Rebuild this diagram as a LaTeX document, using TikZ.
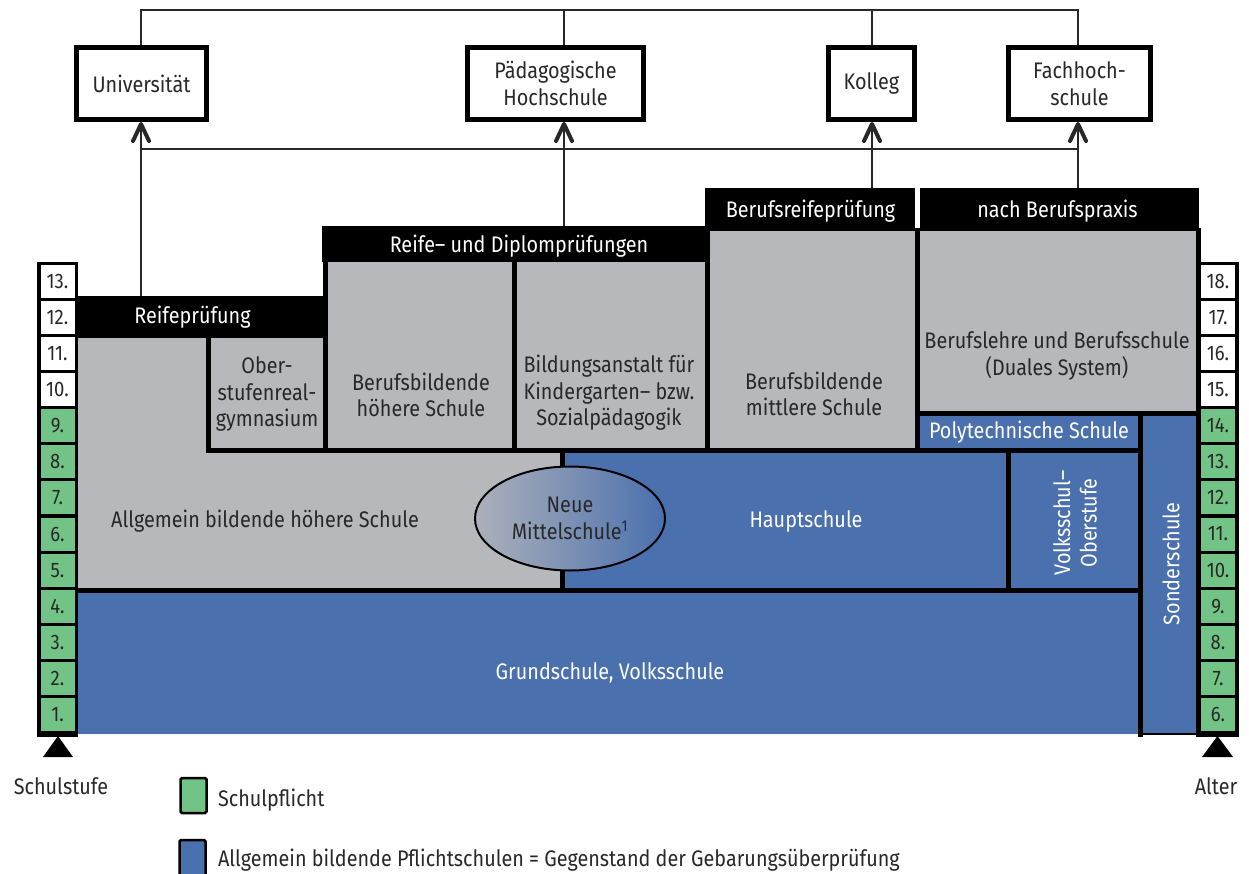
\documentclass[tikz,border=0pt]{standalone}
\usepackage{fontspec}
\setmainfont{Fira Sans}[FakeStretch=0.88]
\usetikzlibrary{arrows.meta,shapes.geometric}
\definecolor{cgray}{RGB}{183,184,188}
\definecolor{cblue}{RGB}{74,112,174}
\definecolor{cgreen}{RGB}{114,196,134}
\definecolor{ctext}{RGB}{40,40,40}
\begin{document}
\begin{tikzpicture}[x=1pt,y=-1pt,
  every node/.style={font=\fontsize{22.5}{26.5}\selectfont, inner sep=0pt, outer sep=0pt, align=center},
  dark/.style={text=ctext},
  light/.style={text=white},
  dest/.style={draw=black, line width=5pt, outer sep=2.5pt, fill=white, text=ctext, minimum height=72pt},
  bar/.style={fill=black},
  conn/.style={line width=1.6pt, draw=ctext},
  arr/.style={conn, -{Straight Barb[length=17pt,width=16pt,line width=4pt,round]}},
  sep/.style={line width=5pt, draw=black, line cap=rect},
  cell/.style={minimum width=34pt, minimum height=33pt, text=ctext, font=\fontsize{21}{22}\selectfont},
  legbox/.style={draw=black, line width=2.5pt, rounded corners=1.5pt, minimum width=26pt},
]
\useasboundingbox (0,0) rectangle (1249,874);
\clip (0,0) rectangle (1249,874);

% ---------- destination boxes ----------
\node[dest, minimum width=130pt] (uni) at (141.5,83.5) {Universität};
\node[dest, minimum width=176pt] (paed) at (555.5,83.5) {Pädagogische\\Hochschule};
\node[dest, minimum width=86pt] (kolleg) at (871.5,83.5) {Kolleg};
\node[dest, minimum width=142pt] (fh) at (1079.5,83.5) {Fachhoch-\\schule};

\coordinate (cu) at (141,0);
\coordinate (cp) at (564,0);
\coordinate (ck) at (872,0);
\coordinate (cf) at (1078,0);
\coordinate (top) at (0,10);
\coordinate (mid) at (0,149);

% ---------- region fills ----------
\fill[cgray] (78,338) rectangle (562,590);
\fill[cgray] (325,262) rectangle (917,450);
\fill[cgray] (707,229) rectangle (1198,413);
\fill[cblue] (562,450) rectangle (1140,590);
\fill[cblue] (917,413) rectangle (1198,450);
\fill[cblue] (1140,413) rectangle (1198,734);
\fill[cblue] (78,590) rectangle (1140,734);

% ---------- exam bars ----------
\node[bar, minimum width=249pt, minimum height=42pt] (reife) at (200.5,317) {};
\node[bar, minimum width=386pt, minimum height=36pt] (rd) at (515,244.5) {};
\node[bar, minimum width=210pt, minimum height=43pt] (brp) at (810,209.5) {};
\node[bar, minimum width=279pt, minimum height=43pt] (nbp) at (1059.5,209.5) {};

% ---------- separators ----------
\draw[sep] (208.5,338) -- (208.5,450) -- (1140,450);
\draw[sep] (325,262) -- (325,450);
\draw[sep] (514,262) -- (514,450);
\draw[sep] (707,229) -- (707,450);
\draw[sep] (917,231) -- (917,450);
\draw[sep] (917,413) -- (1198,413);
\draw[sep] (1198,231) -- (1198,413);
\draw[sep] (1140,413) -- (1140,734);
\draw[sep] (562,450) -- (562,590);
\draw[sep] (1008,450) -- (1008,590);
\draw[sep] (78,590.5) -- (1140,590.5);
\draw[line width=1.5pt] (1140,734) -- (1198,734);

% ---------- connectors ----------
\draw[conn] (uni.north -| cu) -- (cu |- top) -- (cf |- top) -- (fh.north -| cf);
\draw[conn] (paed.north -| cp) -- (cp |- top);
\draw[conn] (kolleg.north -| ck) -- (ck |- top);
\draw[conn] (cu |- mid) -- (cf |- mid);
\draw[arr] (reife.north -| cu) -- (uni.south -| cu);
\draw[arr] (rd.north -| cp) -- (paed.south -| cp);
\draw[arr] (brp.north -| ck) -- (kolleg.south -| ck);
\draw[arr] (nbp.north -| cf) -- (fh.south -| cf);

% ---------- texts ----------
\node[light] (treife) at (192.5,317) {Reifeprüfung};
\node[light] (trd) at (519,246) {Reife– und Diplomprüfungen};
\node[light] (tbrp) at (810.5,211) {Berufsreifeprüfung};
\node[light] (tnbp) at (1057.5,211) {nach Berufspraxis};

\node[dark] (org) at (267,394) {Ober-\\stufenreal-\\gymnasium};
\node[dark] (bhs) at (421,395) {Berufsbildende\\höhere Schule};
\node[dark] (bakip) at (609,393) {Bildungsanstalt für\\Kindergarten– bzw.\\Sozialpädagogik};
\node[dark] (bms) at (814,394) {Berufsbildende\\mittlere Schule};
\node[dark] (bl) at (1057,356) {Berufslehre und Berufsschule\\(Duales System)};
\node[light] (poly) at (1029,432) {Polytechnische Schule};
\node[dark] (abhs) at (265,521) {Allgemein bildende höhere Schule};
\node[light] (hs) at (806,521) {Hauptschule};
\node[light, rotate=90] (vso) at (1075,523) {Volksschul–\\Oberstufe};
\node[light, rotate=90] (sonder) at (1171,564) {Sonderschule};
\node[light] (gs) at (610,673) {Grundschule, Volksschule};
\node[ellipse, draw=black, line width=2pt, left color=cgray!90!cblue, right color=cblue, minimum width=190pt, minimum height=104pt, text=ctext] (nms) at (570,518.5) {Neue\\Mittelschule\textsuperscript{1}};

% ---------- scales ----------
\fill[black] (36.5,262) rectangle (78,737);
\fill[black] (1196,262) rectangle (1239,737);
\foreach \k in {0,...,12}{
  \pgfmathtruncatemacro\nl{13-\k}
  \pgfmathtruncatemacro\nr{18-\k}
  \pgfmathsetmacro\yc{281.5+36.08*\k}
  \ifnum\nl>9 \def\cl{white}\else\def\cl{cgreen}\fi
  \ifnum\nr>14 \def\cr{white}\else\def\cr{cgreen}\fi
  \node[cell, fill=\cl] (l\nl) at (57.5,\yc) {\nl.};
  \node[cell, fill=\cr] (r\nr) at (1218,\yc) {\nr.};
}
\fill[black] (58,736) -- (43,757) -- (73,757) -- cycle;
\fill[black] (1217.5,736) -- (1202,757) -- (1233,757) -- cycle;
\node[dark] (stufe) at (61,786) {Schulstufe};
\node[dark] (alter) at (1216,786) {Alter};

% ---------- legend ----------
\node[legbox, fill=cgreen, minimum height=35pt] (lg1) at (193.5,795.5) {};
\node[dark, anchor=base west] (lt1) at (218,806) {Schulpflicht};
\node[legbox, fill=cblue, minimum height=40pt] (lg2) at (192.5,860) {};
\node[dark, anchor=base west] (lt2) at (218,866) {Allgemein bildende Pflichtschulen = Gegenstand der Gebarungsüberprüfung};
\end{tikzpicture}
\end{document}
